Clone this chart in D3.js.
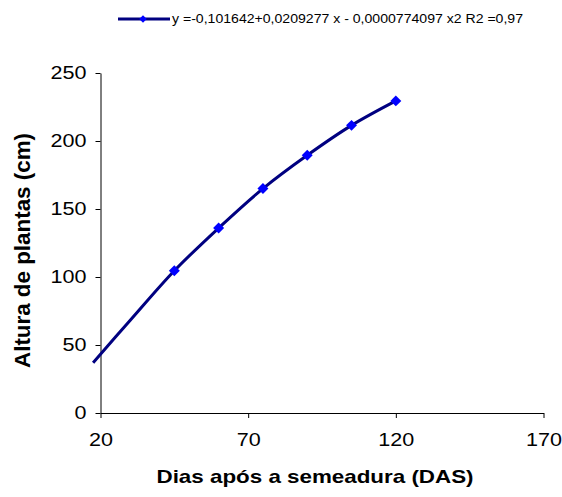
<!DOCTYPE html>
<html>
<head>
<meta charset="utf-8">
<script src="https://cdn.jsdelivr.net/npm/d3@7"></script>
<style>
  body { margin: 0; background: #fff; }
  svg { font-family: Arial, "Liberation Sans", sans-serif; }
</style>
</head>
<body>
<div id="chart"></div>
<script>
// measured points (DAS, cm)
var das = [45, 60, 75, 90, 105, 120];
var altura = [104.6, 136, 165, 189.5, 211.5, 229.5];
// fitted curve (starts just left of the axis)
var curveX = [17.5, 30, 45, 60, 75, 90, 105, 120];
var curveY = [37, 68, 104.6, 136, 165, 189.5, 211.5, 229.5];
var xTicks = [20, 70, 120, 170];
var yTicks = [0, 50, 100, 150, 200, 250];
var legendText = 'y =-0,101642+0,0209277 x - 0,0000774097 x2 R2 =0,97';

var width = 562, height = 497;

var svg = d3.select('#chart').append('svg')
  .attr('width', width)
  .attr('height', height);

var x = d3.scaleLinear().domain([20, 170]).range([100.5, 543.5]);
var y = d3.scaleLinear().domain([0, 250]).range([413, 73]);

svg.append('g')
  .attr('transform', 'translate(0,413)')
  .call(d3.axisBottom(x).tickValues(xTicks).tickSize(5).tickPadding(15).tickSizeOuter(0));

svg.append('g')
  .attr('transform', 'translate(100.5,0)')
  .call(d3.axisLeft(y).tickValues(yTicks).tickSize(5).tickPadding(9).tickSizeOuter(0));

svg.selectAll('.domain, .tick line').attr('stroke', '#000').attr('stroke-width', 1);
// excel draws the digits a bit wider than Arial
svg.selectAll('.tick text')
  .attr('fill', '#000')
  .style('font-size', '18.5px')
  .style('font-family', 'Arial, "Liberation Sans", sans-serif')
  .attr('textLength', function() { return this.textContent.length * 12; })
  .attr('lengthAdjust', 'spacingAndGlyphs');

// curve
var line = d3.line()
  .x(function(d) { return x(d[0]); })
  .y(function(d) { return y(d[1]); })
  .curve(d3.curveCatmullRom.alpha(0.5));

svg.append('path')
  .datum(d3.zip(curveX, curveY))
  .attr('d', line)
  .attr('fill', 'none')
  .attr('stroke', '#000080')
  .attr('stroke-width', 3);

// diamonds
var diamond = d3.symbol().type(d3.symbolSquare).size(60);
svg.selectAll('.pt')
  .data(d3.zip(das, altura))
  .enter().append('path')
    .attr('class', 'pt')
    .attr('d', diamond)
    .attr('transform', function(d) { return 'translate(' + x(d[0]) + ',' + y(d[1]) + ') rotate(45)'; })
    .attr('fill', '#0000ff');

// axis titles
svg.append('text')
  .attr('x', 315)
  .attr('y', 483)
  .attr('text-anchor', 'middle')
  .attr('textLength', 317)
  .attr('lengthAdjust', 'spacingAndGlyphs')
  .style('font-size', '19px')
  .style('font-weight', 'bold')
  .text('Dias após a semeadura (DAS)');

svg.append('text')
  .attr('transform', 'translate(30,250.5) rotate(-90)')
  .attr('text-anchor', 'middle')
  .attr('textLength', 235)
  .attr('lengthAdjust', 'spacingAndGlyphs')
  .style('font-size', '22px')
  .style('font-weight', 'bold')
  .text('Altura de plantas (cm)');

// legend
var legend = svg.append('g');
legend.append('line')
  .attr('x1', 118).attr('x2', 170)
  .attr('y1', 19).attr('y2', 19)
  .attr('stroke', '#000080')
  .attr('stroke-width', 3);
legend.append('path')
  .attr('d', d3.symbol().type(d3.symbolSquare).size(28))
  .attr('transform', 'translate(143,19) rotate(45)')
  .attr('fill', '#0000ff');
legend.append('text')
  .attr('x', 172)
  .attr('y', 23)
  .attr('textLength', 351)
  .attr('lengthAdjust', 'spacingAndGlyphs')
  .style('font-size', '12.5px')
  .text(legendText);
</script>
</body>
</html>
